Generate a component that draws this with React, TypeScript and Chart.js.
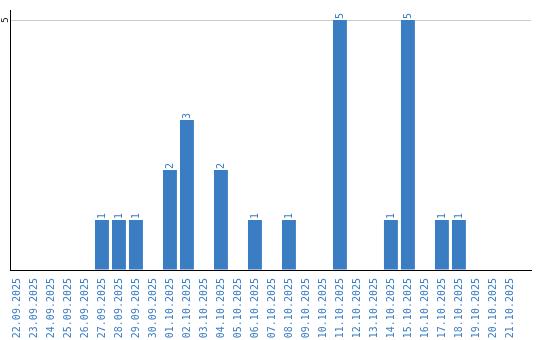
import React, { useEffect, useRef } from "react";
import { Chart, registerables } from "chart.js";

Chart.register(...registerables);

const dateLabels: string[] = [
  "22.09.2025", "23.09.2025", "24.09.2025", "25.09.2025", "26.09.2025",
  "27.09.2025", "28.09.2025", "29.09.2025", "30.09.2025", "01.10.2025",
  "02.10.2025", "03.10.2025", "04.10.2025", "05.10.2025", "06.10.2025",
  "07.10.2025", "08.10.2025", "09.10.2025", "10.10.2025", "11.10.2025",
  "12.10.2025", "13.10.2025", "14.10.2025", "15.10.2025", "16.10.2025",
  "17.10.2025", "18.10.2025", "19.10.2025", "20.10.2025", "21.10.2025",
];

const counts: number[] = [
  0, 0, 0, 0, 0,
  1, 1, 1, 0, 2,
  3, 0, 2, 0, 1,
  0, 1, 0, 0, 5,
  0, 0, 1, 5, 0,
  1, 1, 0, 0, 0,
];

const yTickValues: number[] = [0, 5];

const BLUE = "rgb(59,125,195)";
const MONO = "'DejaVu Sans Mono', monospace";

const labelPlugin = {
  id: "valueLabels",
  afterDatasetsDraw(chart: any) {
    const ctx = chart.ctx;
    const meta = chart.getDatasetMeta(0);
    ctx.save();
    ctx.fillStyle = BLUE;
    ctx.font = `10px ${MONO}`;
    ctx.textAlign = "left";
    ctx.textBaseline = "middle";
    meta.data.forEach((bar: any, i: number) => {
      const v = counts[i];
      if (!v) return;
      ctx.save();
      ctx.translate(bar.x, bar.y - 1);
      ctx.rotate(-Math.PI / 2);
      ctx.fillText(String(v), 0, 0);
      ctx.restore();
    });
    const ys = chart.scales.y;
    ctx.fillStyle = "#000";
    ctx.font = `9px ${MONO}`;
    ctx.textAlign = "center";
    ctx.textBaseline = "middle";
    ys.ticks.forEach((t: any) => {
      if (t.value === 0) return;
      const py = ys.getPixelForValue(t.value);
      ctx.save();
      ctx.translate(5.5, py);
      ctx.rotate(-Math.PI / 2);
      ctx.fillText(String(t.value), 0, 0);
      ctx.restore();
    });
    ctx.restore();
  },
};

export default function App() {
  const ref = useRef<HTMLCanvasElement | null>(null);
  useEffect(() => {
    if (!ref.current) return;
    const chart = new Chart(ref.current, {
      type: "bar",
      data: {
        datasets: [
          {
            data: counts.map((v, i) => ({ x: i, y: v })),
            backgroundColor: BLUE,
            borderWidth: 0,
            barPercentage: 0.82,
            categoryPercentage: 1,
          },
        ],
      },
      options: {
        animation: false,
        responsive: true,
        maintainAspectRatio: false,
        layout: { padding: { top: 10, right: 9, left: 0, bottom: 0 } },
        plugins: { legend: { display: false }, tooltip: { enabled: false } },
        scales: {
          x: {
            type: "linear",
            offset: false,
            min: -0.38,
            max: 30.24,
            grid: { display: false, offset: false },
            border: { color: "#000", width: 1 },
            afterBuildTicks: (scale: any) => {
              scale.ticks = dateLabels.map((_, i) => ({ value: i }));
            },
            afterFit: (scale: any) => {
              scale.height = 70;
            },
            ticks: {
              autoSkip: false,
              minRotation: 90,
              maxRotation: 90,
              padding: 0,
              color: BLUE,
              font: { family: MONO, size: 10 },
              callback: (value: any) => dateLabels[Math.round(Number(value))] ?? "",
            },
          },
          y: {
            min: 0,
            max: 5.2,
            afterBuildTicks: (scale: any) => {
              scale.ticks = yTickValues.map((v) => ({ value: v }));
            },
            afterFit: (scale: any) => {
              scale.width = 10.5;
            },
            ticks: { display: false },
            grid: {
              drawTicks: false,
              color: (c: any) => (c.tick && c.tick.value === 5 ? "#cccccc" : "rgba(0,0,0,0)"),
            },
            border: { color: "#000", width: 1 },
          },
        },
      },
      plugins: [labelPlugin],
    });
    return () => chart.destroy();
  }, []);
  return (
    <div style={{ position: "absolute", left: 0, top: 0, width: 540, height: 340, background: "#fff" }}>
      <canvas ref={ref} />
    </div>
  );
}
